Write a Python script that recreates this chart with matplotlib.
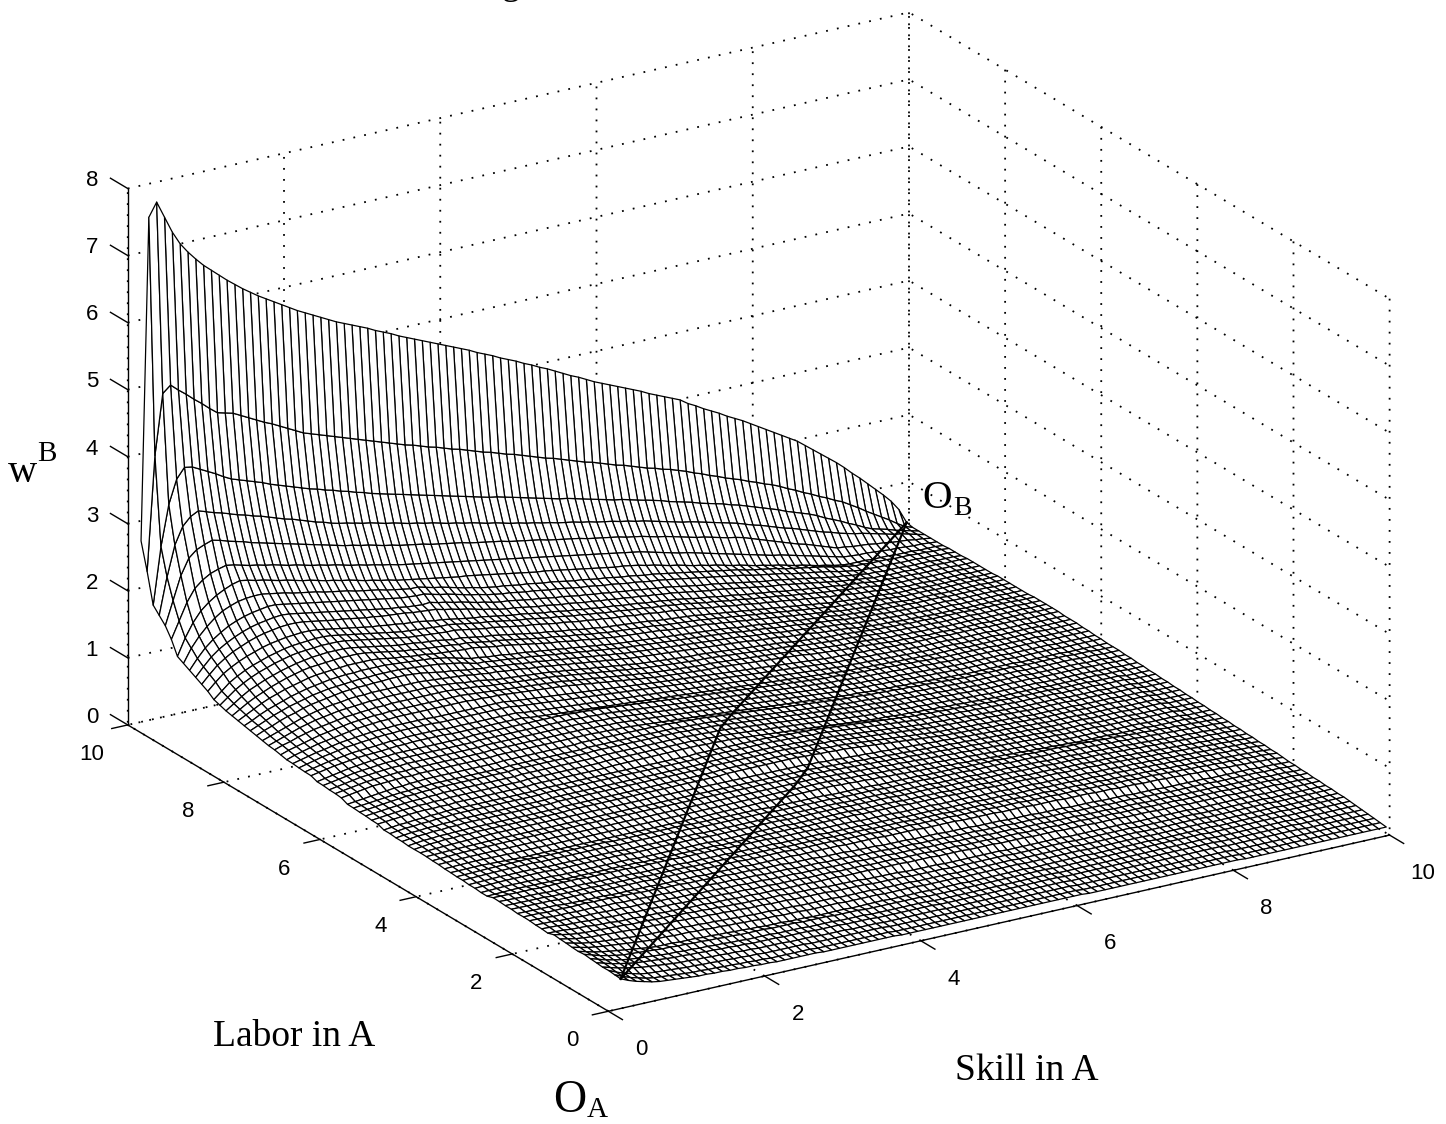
import numpy as np
import matplotlib
matplotlib.use("Agg")
import matplotlib.pyplot as plt
from matplotlib.transforms import ScaledTranslation

# wage surface, values in hundredths, one list per row of constant labor
row_00 = [270,750,770,745,720,700,685,672,660,650,640,630,621,612,604,596,589,582,575,568,561,555,549,543,537,531,526,521,516,511,505,500,495,489,484,479,474,469,464,459,454,449,444,438,433,428,422,417,412,406,401,395,390,384,378,372,367,361,355,350,345,340,335,330,325,319,314,309,304,299,291,285,278,272,266,259,253,247,240,233,226,219,212,205,198,189,180,171,162,153,143,132,122,111,100,89,77,62,40]
row_01 = [230,400,490,500,490,481,471,462,452,443,440,437,431,425,419,413,408,402,396,390,384,380,376,372,368,364,360,356,352,348,344,340,336,332,329,325,321,318,314,310,307,303,299,295,292,288,284,281,277,273,269,265,262,258,254,250,246,243,239,235,231,228,224,220,216,213,209,206,202,198,193,189,184,180,175,171,167,162,158,153,149,144,138,133,127,122,116,111,105,100,93,86,78,71,64,57,49,42,38]
row_02 = [185,270,330,365,380,378,372,366,360,353,347,343,339,335,331,326,322,318,314,310,306,303,299,296,292,289,285,282,278,275,272,269,266,263,260,257,254,251,248,245,242,239,236,233,231,228,225,222,219,216,213,210,207,205,202,199,196,193,190,187,185,182,179,176,173,170,166,163,160,157,153,150,147,144,140,137,133,129,125,121,117,112,108,104,100,95,89,84,79,73,68,62,57,54,51,47,44,41,38]
row_03 = [175,230,275,300,312,318,314,310,307,303,299,296,292,289,285,281,277,274,270,266,262,259,255,252,250,247,244,242,239,236,234,231,228,226,223,221,218,215,213,210,208,205,202,200,197,194,192,189,187,184,182,179,177,175,172,170,167,165,163,160,158,155,153,150,147,144,141,138,136,133,130,127,124,121,118,114,110,107,103,99,95,92,88,84,80,76,73,69,66,63,61,58,55,52,49,47,44,41,38]
row_04 = [165,200,235,258,268,273,277,274,270,267,264,260,257,254,251,248,245,242,239,236,233,230,227,224,222,219,217,214,211,209,206,204,202,200,197,195,193,191,189,186,184,182,180,178,175,173,171,169,167,164,162,160,158,156,153,151,149,147,145,142,140,138,135,132,130,127,124,121,118,116,113,110,107,105,102,98,94,90,86,82,78,74,71,67,63,59,55,54,52,51,50,48,47,45,44,43,41,40,38]
row_05 = [150,175,200,218,228,235,239,242,240,237,234,232,229,227,224,221,219,216,213,211,208,206,203,200,198,195,193,190,188,185,183,181,179,177,175,173,171,169,167,165,163,161,159,157,155,153,151,149,147,145,143,141,139,137,135,133,131,129,127,125,123,120,117,114,111,108,106,103,100,97,94,91,88,85,82,79,76,73,71,68,65,62,59,56,53,50,47,46,45,45,44,43,42,42,41,40,40,39,38]
row_06 = [130,155,175,190,200,208,214,219,222,220,217,215,212,209,207,204,201,199,196,193,191,188,186,183,180,178,175,173,170,168,166,164,162,160,158,156,154,153,151,149,147,145,143,141,139,137,135,134,132,130,128,126,124,122,120,118,116,115,113,111,108,106,103,100,98,95,92,90,87,85,82,79,77,74,71,69,66,64,61,58,56,53,50,48,45,43,42,42,42,41,41,41,40,40,40,39,39,39,38]

# left part of the next rows, where the ridge runs
left_07 = [125,145,160,172,182,190,195,199,201,202,202,200,198,196,193,191,189,187,184,182,180,178,175,173,171,169,166,164,162,160]
left_08 = [120,135,148,158,166,173,178,182,185,187,189,189,187,185,183,181,179,177,175,173,171,169,167,165,163,161,159,157,156,155]
left_09 = [115,128,140,149,156,162,167,171,174,176,178,179,178,176,174,172,170,168,166,164,162,160,158,156,154,152,151,149,148,147]
left_10 = [110,122,133,141,148,153,158,162,165,167,169,170,170,169,167,165,163,161,160,158,156,154,153,151,150,149,148,146,145,144]
left_11 = [105,116,126,133,139,144,148,152,155,157,159,160,161,161,160,158,156,154,152,150,148,146,145,143,142,140,139,138,136,134]
left_12 = [98,108,118,125,131,136,140,144,147,150,152,153,154,155,155,154,152,150,148,146,144,142,140,138,136,135,134,133,132,131]
left_13 = [95,104,113,120,126,131,135,139,142,145,147,148,149,150,150,150,149,147,145,143,141,139,137,135,133,132,131,130,129,128]
left_14 = [92,100,108,115,120,125,129,133,136,139,141,143,144,145,145,145,144,142,140,138,136,134,132,131,130,128,127,126,124,122]
left_15 = [90,97,104,110,115,120,124,128,131,134,136,137,138,139,140,140,140,139,137,135,133,131,129,128,126,125,124,123,122,120]
left_16 = [88,94,100,106,111,115,119,122,125,128,130,131,132,133,134,134,134,134,133,131,129,128,126,125,124,122,121,120,119,118]
left_17 = [86,91,97,102,106,110,114,117,120,122,124,126,127,128,128,129,129,129,129,128,127,126,125,124,123,121,119,116,113,110]
left_18 = [84,89,94,99,103,107,110,113,116,118,120,121,122,123,124,124,125,125,125,125,124,123,122,121,120,118,116,114,111,108]
left_19 = [82,87,91,96,100,103,107,110,112,114,116,118,119,120,120,121,121,122,122,122,121,120,118,116,114,113,111,109,108,106]
left_20 = [80,84,88,92,96,100,103,106,108,110,111,113,114,114,115,115,115,115,115,115,115,114,113,112,111,110,109,107,106,104]
left_21 = [78,82,86,90,94,97,100,102,104,106,107,108,109,110,110,111,111,111,111,111,111,111,110,109,108,106,105,104,102,100]
left_22 = [77,81,84,88,91,94,96,98,100,102,103,104,105,106,106,107,107,107,107,107,107,107,107,106,105,104,103,101,100,99]
left_23 = [75,79,82,85,88,91,93,95,97,99,100,101,102,102,103,103,103,103,103,103,103,103,103,103,102,101,100,99,98,97]
left_24 = [73,77,80,83,86,88,90,92,94,96,97,98,99,99,100,100,100,100,100,100,100,100,100,100,99,99,98,98,97,96]

# right part shared by groups of those rows
tail_a = [157,154,151,149,146,143,140,138,135,133,131,130,128,126,125,123,121,120,118,116,114,113,111,109,108,106,104,103,101,99,98,96,94,92,90,88,86,84,82,80,78,76,73,71,69,67,65,62,60,58,56,54,52,49,47,45,43,43,42,42,42,41,41,41,40,40,39,39,38]
tail_b = [146,143,141,138,136,133,130,128,125,123,122,120,118,116,115,113,111,110,108,106,105,103,102,100,99,97,96,94,93,91,90,88,86,84,82,80,79,77,75,73,71,69,67,65,64,62,60,58,56,54,52,50,48,47,45,44,42,42,41,41,41,40,40,40,40,39,39,39,38]
tail_c = [130,128,126,124,122,121,119,117,115,113,112,110,108,106,105,103,101,100,98,97,95,94,93,91,90,89,87,86,85,83,82,80,78,76,75,73,71,70,68,66,65,63,62,60,58,57,55,54,52,51,50,48,47,46,45,43,42,42,41,41,41,40,40,40,40,40,39,39,39]
tail_d = [120,118,116,114,113,111,109,107,105,103,101,100,98,96,95,93,91,90,88,87,86,85,84,83,82,80,79,78,77,76,75,73,72,70,69,67,66,64,63,61,60,58,57,55,54,52,51,49,48,47,46,45,44,44,43,42,41,41,41,41,40,40,40,40,40,40,39,39,39]
tail_e = [106,104,103,102,100,99,98,96,95,93,92,90,89,87,86,84,83,81,80,79,78,77,76,75,74,73,72,71,70,69,68,67,66,64,63,62,61,59,58,57,56,54,53,52,51,50,48,47,46,45,45,44,43,43,42,42,41,41,41,41,40,40,40,40,40,40,39,39,39]
tail_f = [97,96,95,94,93,92,91,89,88,86,85,83,82,80,79,77,76,74,73,72,71,70,69,68,67,67,66,65,64,63,62,61,60,59,58,57,56,54,53,52,51,50,49,49,48,47,46,45,44,44,43,43,42,42,42,41,41,41,41,41,40,40,40,40,40,40,39,39,39]

# flatter rows towards the front, one list for several neighbouring rows
flat_a = [70,73,76,79,81,83,85,86,87,88,89,90,90,91,91,91,91,91,90,90]+[90]*8+[88,87,86,85,84,83,82,81,80,79,78,77,76,75,74,73,72,71,70,69,68,67,66,65,64,63,62,61,60,59,58,57,56,55,54,53,52,51,50,49,48,47,47,46,46,45,45,44,44,43,43,42]+[42]*4+[41]*5+[40]*5+[39]*5
flat_b = [66,68,70,72,74,75,76,77,78,78]+[79]*10+[80]*12+[80,79,79,78,78,77,76,75,74,73,72,71,70,69,68,67,66,65,64,63,62,61,60,59,58,57,56,55,54,53,52,51,50,49,49,48,47,47,46,46,45,45,44,44,43,43,42,42]+[41]*7+[40]*6+[39]*6
flat_c = [60,61,62,63,64,65,66,66,67,67]+[68]*10+[69]*10+[70]*12+[69,69,68,68,67,66,65,64,63,62,61,60,59,58,57,56,55,54,53,52,51,50,49,49,48,47,47,46,46,45,45,44,44,43,43,42,42,41]+[41]*6+[40]*7+[39]*3+[38]*3
flat_d = [55,56,57,57,58,58,59,59,60,60]+[60]*10+[61]*20+[62]*10+[61,61,60,60,59,59,58,57,56,55,54,53,52,51,50,49,48,47,46,46,45,45,44,44,43,43,42,42,41,41]+[40]*6+[39]*5+[38]*4+[36]*4
flat_e = [53]*50+[52,52,51,51,50,50,49,49,48,48,47,47,46,46,45,45,44,44,43,43,42,42,41,41,40,40,39,39,38,38]+[37]*5+[36]*5+[35]*5+[33]*4
flat_f = [50]*10+[49]*10+[48]*10+[47]*10+[46]*8+[45]*6+[44]*6+[43]*5+[42]*5+[41]*4+[40]*4+[39]*3+[38]*2+[37]*2+[36]*2+[35]*2+[34]*2+[33]*2+[32]*2+[31]*2+[30]*2
flat_g = [49]*6+[48]*6+[47]*6+[46]*6+[45]*6+[44]*6+[43]*6+[42]*5+[41]*5+[40]*5+[39]*5+[38]*4+[37]*4+[36]*4+[35]*3+[34]*3+[33]*3+[32]*2+[31]*2+[30]*2+[29]*2+[28]*2+[27]*2+[26]*2+[25]+[24]
flat_h = [47]*3+[46]*3+[45]*3+[44]*3+[43]*3+[42]*3+[41]*3+[40]*3+[39]*3+[38]*3+[37]*4+[36]*4+[35]*4+[34]*4+[33]*4+[32]*4+[31]*4+[30]*4+[29]*4+[28]*4+[27]*4+[26]*4+[25]*4+[24]*6+[23]*6+[22]*3+[21]*2
flat_i = [45,43,41,40,39,38,37,36,35,34]+[33]*3+[32]*3+[31]*2+[30]*2+[29]*2+[28]*2+[27]*3+[26]*3+[25]*5+[24]*5+[23]*5+[22]*5+[21]*8+[20]*8+[19]*8+[18]*8+[17]*9+[16]*8
flat_j = [44,41,38,36,34,32,31,30,29,28,27,27,26,26,25,25,24,24,23,23]+[22]*4+[21]*4+[20]*4+[19]*4+[18]*8+[17]*16+[16]*20+[15]*10+[14]*9
flat_k = [43,38,34,31,28,26,25,24,23,22,21,21,20,20,19,19,18,18,17,17]+[16]*6+[15]*10+[14]*24+[13]*20+[12]*19

# (left part, tail, small lift of the tail, value at the right edge) for rows 7..24
ridge_rows = [(left_07, tail_a, 3, 39), (left_08, tail_a, -2, 39), (left_09, tail_b, 2, 39), (left_10, tail_b, -3, 40),
              (left_11, tail_c, 3, 40), (left_12, tail_c, 1, 40), (left_13, tail_c, -2, 40),
              (left_14, tail_d, 2, 40), (left_15, tail_d, 0, 41), (left_16, tail_d, -2, 41),
              (left_17, tail_e, 3, 41), (left_18, tail_e, 2, 41), (left_19, tail_e, 0, 41), (left_20, tail_e, -2, 41),
              (left_21, tail_f, 2, 42), (left_22, tail_f, 1, 42), (left_23, tail_f, -1, 42), (left_24, tail_f, -2, 42)]
# (list, small lift, value at the right edge) for the front rows
front_rows = [(flat_a, 2, 42), (flat_a, 1, 41), (flat_a, -1, 41), (flat_a, -2, 41),
              (flat_b, 2, 40), (flat_b, 1, 40), (flat_b, 0, 39), (flat_b, -1, 39), (flat_b, -2, 38),
              (flat_c, 2, 38), (flat_c, 1, 38), (flat_c, 1, 37), (flat_c, 0, 37), (flat_c, -1, 36), (flat_c, -2, 36),
              (flat_d, 1, 35), (flat_d, 1, 35), (flat_d, 0, 34), (flat_d, 0, 34), (flat_d, -1, 33), (flat_d, -1, 33),
              (flat_e, 2, 32), (flat_e, 1, 32), (flat_e, 1, 31), (flat_e, 0, 31), (flat_e, -1, 30), (flat_e, -2, 30),
              (flat_f, 1, 29), (flat_f, 1, 29), (flat_f, 0, 28), (flat_f, 0, 28), (flat_f, -1, 27), (flat_f, -1, 27),
              (flat_g, 1, 26), (flat_g, 0, 26), (flat_g, 0, 25), (flat_g, 0, 25), (flat_g, -1, 24),
              (flat_h, 2, 23), (flat_h, 1, 23), (flat_h, 0, 22), (flat_h, -1, 22), (flat_h, -2, 21),
              (flat_i, 3, 21), (flat_i, 2, 20), (flat_i, 0, 20), (flat_i, -1, 19), (flat_i, -3, 19),
              (flat_j, 1, 18), (flat_j, 0, 17), (flat_j, 0, 16), (flat_j, -1, 15),
              (flat_k, 1, 14), (flat_k, 0, 13), (flat_k, 0, 12)]

# how far the lift reaches along a row, it dies out towards the right edge
tail_reach = np.r_[np.ones(15), np.linspace(1, 0, 54)]
front_reach = np.r_[np.linspace(0.3, 2, 10), np.full(20, 2.0), np.linspace(2, 1, 18), np.linspace(1, 0, 51)]


def adjust(part, lift, edge, reach):
    part = np.array(part, dtype=float)
    return part + lift * reach + (edge - part[-1]) * (1 - np.minimum(reach, 1))


z_rows = [row_00, row_01, row_02, row_03, row_04, row_05, row_06]
z_rows += [left + list(adjust(tail, lift, edge, tail_reach)) for left, tail, lift, edge in ridge_rows]
z_rows += [list(adjust(flat, lift, edge, front_reach)) for flat, lift, edge in front_rows]

# the two paths between the origins
path_a_x = [0.17, 5.03, 5.40, 9.97]
path_a_y = [0.02, 5.85, 6.18, 10.0]
path_a_z = [0.43, 0.40, 0.40, 0.40]
path_b_x = [0.17, 5.00, 5.35, 9.97]
path_b_y = [0.02, 4.24, 4.55, 10.0]
path_b_z = [0.43, 0.25, 0.28, 0.40]

xy_ticks = [0, 2, 4, 6, 8, 10]
z_ticks = [0, 1, 2, 3, 4, 5, 6, 7, 8]

W, H = 1446, 1124
SERIF = "Liberation Serif"

fig = plt.figure(figsize=(W / 100, H / 100), dpi=100, facecolor="white")
ax = fig.add_axes([20.5 / W, 35 / H, 1, 1], projection="3d", proj_type="ortho")
ax.computed_zorder = False
ax.set_box_aspect((918, 918, 577), zoom=1.226)
ax.view_init(elev=21.5, azim=-121.6)

x_grid = np.linspace(0.17, 9.97, 99)
y_grid = np.linspace(10, 0.02, 80)
X, Y = np.meshgrid(x_grid, y_grid)
Z = np.array(z_rows) / 100.0

surf = ax.plot_surface(X, Y, Z, rstride=1, cstride=1, color="white", edgecolor="black",
                       linewidth=0.9, shade=False, zorder=1)
surf.set_clip_on(False)
for px, py, pz in ((path_a_x, path_a_y, path_a_z), (path_b_x, path_b_y, path_b_z)):
    line, = ax.plot(px, py, pz, color="black", lw=1.6, zorder=5)
    line.set_clip_on(False)

ax.set_xlim(0, 10)
ax.set_ylim(0, 10)
ax.set_zlim(0, 8)
ax.set_xticks(xy_ticks)
ax.set_yticks(xy_ticks)
ax.set_zticks(z_ticks)
ax.tick_params(axis="x", pad=14)
ax.tick_params(axis="y", pad=14)
ax.tick_params(axis="z", pad=8)

# z ticks point along the labor direction in the original
ax.zaxis._get_tickdir = lambda pos: 1


def shift_label(label, offset):
    # mplot3d resets the label transform on every draw, so hook the setter
    setter = label.set_transform
    label.set_transform = lambda t: setter(t + offset)


# matlab look: no panes, dotted grid, ticks pointing out only
label_shift = {"x": (8, 15), "y": (5, 18), "z": (12, 14)}
tick_in = {"x": 0.365, "y": 0.256, "z": 0.0}
tick_out = {"x": 0.0, "y": 0.0, "z": 0.45}
for name, axis in (("x", ax.xaxis), ("y", ax.yaxis), ("z", ax.zaxis)):
    axis.set_pane_color((1, 1, 1, 0))
    axis.pane.set_edgecolor((1, 1, 1, 0))
    axis.line.set_color("black")
    axis.line.set_linewidth(1.0)
    axis._axinfo["grid"].update(color="black", linestyle=(0, (1, 5.1)), linewidth=1.3)
    axis._axinfo["tick"].update(inward_factor=tick_in[name], outward_factor=tick_out[name])
    axis._axinfo["tick"]["linewidth"] = {True: 1.0, False: 1.0}
    dx, dy = label_shift[name]
    offset = ScaledTranslation(dx / 100, dy / 100, fig.dpi_scale_trans)
    for tick in axis.get_major_ticks():
        tick.label1.set_fontfamily("Liberation Sans")
        tick.label1.set_fontsize(16)
        shift_label(tick.label1, offset)


def put_text(px, py, s, size):
    fig.text(px / W, 1 - py / H, s, fontsize=size, family=SERIF, ha="left", va="baseline")


put_text(8, 482, "w", 29)
put_text(37, 461, "B", 21)
put_text(213, 1046, "Labor in A", 27)
put_text(955, 1080, "Skill in A", 27)
put_text(553, 1112, "O", 33)
put_text(587, 1117, "A", 21)
put_text(922, 508, "O", 29.5)
put_text(953, 515, "B", 20)
put_text(501, -6, "g", 26.5)

fig.savefig("out.png", dpi=100, facecolor="white")
